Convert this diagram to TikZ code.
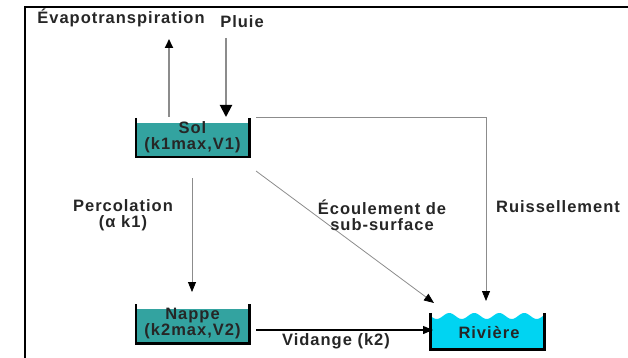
\documentclass[tikz,border=0pt]{standalone}
\usepackage{fontspec}
\setmainfont{Liberation Sans}
\newfontfamily\lblfont[LetterSpace=6]{Liberation Sans}
\usetikzlibrary{arrows.meta}
\definecolor{solteal}{HTML}{33A3A0}
\definecolor{rivcyan}{HTML}{00D4F2}
\definecolor{lgray}{HTML}{8C8C8C}
\definecolor{txtgray}{HTML}{262626}
\begin{document}
\begin{tikzpicture}[x=1pt,y=-1pt,
  lbl/.style={font=\lblfont\bfseries\fontsize{16.5}{16}\selectfont, text=txtgray, align=center, inner sep=0pt},
  tank/.style={minimum width=113pt, minimum height=39pt, inner sep=0pt},
  wall/.style={line width=2.6pt, line cap=butt},
  thin/.style={draw=lgray, line width=0.8pt},
  tipk/.style={-{Triangle[width=8pt,length=10pt,color=black]}}
]
\useasboundingbox (0,0) rectangle (628,358);
% frame
\draw[line width=2.4pt] (25,358) -- (25,7) -- (628,7);

% tanks (placed first as empty nodes, drawn after)
\node[tank] (sol) at (192.5,137.5) {};
\node[tank] (nappe) at (192.5,324) {};
\node[tank, minimum width=114pt, minimum height=36pt] (riv) at (487.5,331) {};

% Sol tank
\fill[solteal] ([yshift=-5pt]sol.north west) rectangle (sol.south east);
\draw[wall] (sol.north west) -- (sol.south west) -- (sol.south east) -- (sol.north east);
\node[lbl] at (192.5,137) {Sol\\(k1max,V1)};

% Nappe tank
\fill[solteal] ([yshift=-5pt]nappe.north west) rectangle (nappe.south east);
\draw[wall] (nappe.north west) -- (nappe.south west) -- (nappe.south east) -- (nappe.north east);
\node[lbl] at (192.5,324) {Nappe\\(k2max,V2)};

% Riviere tank with wavy surface
\fill[rivcyan] plot[domain=431:544, samples=80] (\x, {316 - 3*sin((\x-443)*14.4)}) -- (544,349) -- (431,349) -- cycle;
\draw[wall] (riv.north west) -- (riv.south west) -- (riv.south east) -- (riv.north east);
\node[lbl] at (489,333) {Rivière};

% top labels
\node[lbl] (evap) at (121,18) {Évapotranspiration};
\node[lbl] (pluie) at (242,22) {Pluie};
\coordinate (evapend) at (169,39);
\coordinate (pluiestart) at (226,38);

% evap and rain arrows
\draw[draw=lgray, line width=2pt, -{Triangle[width=8pt,length=9pt,color=black]}] (169,117) -- (evapend);
\draw[draw=lgray, line width=2pt, -{Triangle[width=12pt,length=12pt,color=black]}] (pluiestart) -- (226,117);

% Ruissellement
\draw[thin, tipk] (256,117) -- (486,117) -- (486,301);
\node[lbl] at (558,207) {Ruissellement};

% Ecoulement de sub-surface
\draw[thin, tipk] (256,171) -- (434,303);
\node[lbl] at (382,215) {Écoulement de\\sub-surface};

% Percolation
\draw[thin, tipk] (192,178) -- (192,292);
\node[lbl] at (123,215) {Percolation\\(α k1)};

% Vidange
\draw[line width=1.2pt, tipk] (256,330) -- (433,330);
\node[lbl] at (336,341) {Vidange (k2)};
\end{tikzpicture}
\end{document}
